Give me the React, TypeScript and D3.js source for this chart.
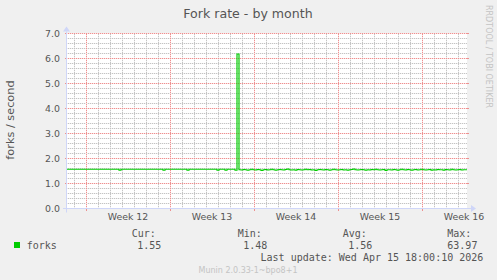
import React from "react";
import * as d3 from "d3";

const TITLE = "Fork rate - by month";
const Y_LABEL = "forks / second";
const Y_MAJOR_TICKS = [0, 1, 2, 3, 4, 5, 6, 7];
const Y_MINOR_TICKS = [0.2, 0.4, 0.6, 0.8, 1.2, 1.4, 1.6, 1.8, 2.2, 2.4, 2.6, 2.8, 3.2, 3.4, 3.6, 3.8, 4.2, 4.4, 4.6, 4.8, 5.2, 5.4, 5.6, 5.8, 6.2, 6.4, 6.6, 6.8];
const SERIES_NAME = "forks";
const SERIES_COLOR = "#00cc00";
const STAT_LABELS = ["Cur:", "Min:", "Avg:", "Max:"];
const STAT_VALUES = ["1.55", "1.48", "1.56", "63.97"];
const LAST_UPDATE = "Last update: Wed Apr 15 18:00:10 2026";
const MUNIN_VERSION = "Munin 2.0.33-1~bpo8+1";
const WATERMARK = "RRDTOOL / TOBI OETIKER";
const VIEW_START = "2026-03-13T10:00:00Z";
const VIEW_END = "2026-04-15T18:00:00Z";
const DATA_START = "2026-03-13T10:00:00Z";
const STEP_HOURS = 4;

// forks per second, one value per 4-hour step
const FORKS = [
  1.57, 1.57, 1.57, 1.57, 1.57, 1.57, 1.57, 1.57, 1.57, 1.57,
  1.57, 1.57, 1.57, 1.57, 1.57, 1.57, 1.57, 1.57, 1.57, 1.57,
  1.57, 1.57, 1.57, 1.57, 1.57, 1.57, 1.53, 1.57, 1.57, 1.57,
  1.57, 1.57, 1.57, 1.57, 1.57, 1.57, 1.57, 1.57, 1.57, 1.57,
  1.57, 1.57, 1.57, 1.57, 1.57, 1.57, 1.57, 1.57, 1.53, 1.57,
  1.57, 1.57, 1.57, 1.57, 1.57, 1.57, 1.57, 1.57, 1.57, 1.57,
  1.53, 1.57, 1.57, 1.57, 1.57, 1.57, 1.57, 1.57, 1.57, 1.57,
  1.57, 1.57, 1.57, 1.57, 1.57, 1.53, 1.57, 1.57, 1.57, 1.53,
  1.57, 1.57, 1.57, 1.57, 1.53,
  6.18,
  1.55, 1.54, 1.56, 1.55, 1.53, 1.55, 1.57, 1.55, 1.54, 1.56,
  1.55, 1.52, 1.55, 1.56, 1.54, 1.55, 1.57, 1.55, 1.53, 1.55,
  1.56, 1.55, 1.54, 1.56, 1.58, 1.55, 1.54, 1.55, 1.53, 1.56,
  1.55, 1.54, 1.55, 1.57, 1.55, 1.56, 1.54, 1.55, 1.52, 1.55,
  1.56, 1.55, 1.54, 1.56, 1.55, 1.53, 1.55, 1.57, 1.55, 1.54,
  1.55, 1.56, 1.54, 1.55, 1.53, 1.55, 1.56, 1.58, 1.55, 1.54,
  1.55, 1.56, 1.55, 1.53, 1.55, 1.54, 1.56, 1.55, 1.57, 1.55,
  1.54, 1.55, 1.56, 1.52, 1.55, 1.55, 1.54, 1.56, 1.55, 1.53,
  1.55, 1.57, 1.55, 1.54, 1.56, 1.55, 1.53, 1.55, 1.56, 1.54,
  1.55, 1.57, 1.55, 1.54, 1.55, 1.56, 1.53, 1.55, 1.54, 1.56,
  1.55, 1.55, 1.53, 1.56, 1.55, 1.54, 1.57, 1.55, 1.54, 1.55,
  1.56, 1.54, 1.55, 1.55, 1.55,
];

const W = 497;
const H = 280;
const X0 = 67;
const X1 = 467;
const Y0 = 208.5;
const Y1 = 33.5;

const SANS = "'DejaVu Sans', sans-serif";
const MONO = "'DejaVu Sans Mono', monospace";
const TEXT = "#555";
const FAINT = "#c4c4c4";
const AXIS = "#cfd6f8";
const MINOR_DOT = "#c4c4c4";
const MINOR_BASE = "#efefef";
const MAJOR_DOT = "#ee9090";
const MAJOR_BASE = "#fbe0e0";

function hLinePath(row: number, xa: number, xb: number, dotted: boolean) {
  if (!dotted) return `M${xa},${row}h${xb - xa}v1h${xa - xb}z`;
  let d = "";
  for (let c = xa + (xa % 2); c < xb; c += 2) d += `M${c},${row}h1v1h-1z`;
  return d;
}
function vLinePath(col: number, ya: number, yb: number, dotted: boolean) {
  if (!dotted) return `M${col},${ya}h1v${yb - ya}h-1z`;
  let d = "";
  for (let r = ya + (ya % 2); r < yb; r += 2) d += `M${col},${r}h1v1h-1z`;
  return d;
}

export default function App() {
  const x = d3.scaleUtc().domain([new Date(VIEW_START), new Date(VIEW_END)]).range([X0, X1]);
  const y = d3.scaleLinear().domain([0, 7]).range([Y0, Y1]);
  const start = new Date(DATA_START);
  const pts: [Date, number][] = FORKS.map((v, i) => [d3.utcHour.offset(start, i * STEP_HOURS), v]);
  const line = d3
    .line<[Date, number]>()
    .x((d) => x(d[0]))
    .y((d) => y(d[1]))
    .curve(d3.curveStepAfter);

  const [d0, d1] = x.domain();
  const days = d3.utcDay.range(d0, d1);
  const sundays = d3.utcSunday.range(d0, d1);
  const fmtWeek = d3.utcFormat("%V");
  const weekLabels = d3.utcSunday
    .range(d3.utcDay.offset(d0, -7), d1)
    .map((s) => d3.utcHour.offset(s, 84))
    .filter((m) => x(m) >= X0 && x(m) <= X1 + 5);

  const pi = (v: number) => Math.round(v);
  const top = pi(Y1 - 0.5);
  const bottom = pi(Y0 - 0.5);
  const statLabelX = [131.7, 237.7, 342.7, 447.3];
  const statValueX = [137.3, 243.3, 348.3, 447.3];

  const minorDays = days.filter((d) => !sundays.some((s) => +s === +d));
  const minorGrid = (dotted: boolean) =>
    Y_MINOR_TICKS.map((t) => hLinePath(pi(y(t) - 0.5), X0, X1, dotted)).join("") +
    minorDays.map((d) => vLinePath(pi(x(d)), top, bottom, dotted)).join("");
  const majorGrid = (dotted: boolean) =>
    Y_MAJOR_TICKS.map((t) => hLinePath(pi(y(t) - 0.5), X0, X1, dotted)).join("") +
    sundays.map((s) => vLinePath(pi(x(s)), top, bottom, dotted)).join("");
  const majorTicks =
    Y_MAJOR_TICKS.map((t) => `M${X0 - 2},${pi(y(t) - 0.5)}h2v1h-2zM${X1},${pi(y(t) - 0.5)}h2v1h-2z`).join("") +
    sundays.map((s) => `M${pi(x(s))},${bottom}h1v3h-1z`).join("");

  return (
    <svg width={W} height={H} style={{ position: "absolute", left: 0, top: 0, background: "#f0f0f0" }}>
      <rect x={0} y={0} width={W} height={H} fill="#f0f0f0" />
      <rect x={X0} y={Y1 - 0.5} width={X1 - X0} height={Y0 - Y1 + 0.5} fill="#ffffff" />
      <path d={minorGrid(false)} fill={MINOR_BASE} shapeRendering="crispEdges" />
      <path d={minorGrid(true)} fill={MINOR_DOT} shapeRendering="crispEdges" />
      <path d={majorGrid(false)} fill={MAJOR_BASE} shapeRendering="crispEdges" />
      <path d={majorGrid(true)} fill={MAJOR_DOT} shapeRendering="crispEdges" />
      <path d={majorTicks} fill={MAJOR_DOT} shapeRendering="crispEdges" />
      {/* axes */}
      <line x1={X0 - 4} x2={X1 + 4} y1={Y0} y2={Y0} stroke={AXIS} />
      <path d={`M${X1 + 4},${Y0 - 3.5}L${X1 + 9},${Y0}L${X1 + 4},${Y0 + 3.5}Z`} fill={AXIS} />
      <line x1={X0 - 0.5} x2={X0 - 0.5} y1={Y0 + 4} y2={Y1 - 2} stroke={AXIS} />
      <path d={`M${X0 - 4},${Y1 - 2}L${X0 - 0.5},${Y1 - 7}L${X0 + 3},${Y1 - 2}Z`} fill={AXIS} />
      {/* data line */}
      <path d={line(pts) || ""} fill="none" stroke={SERIES_COLOR} strokeWidth={1.2} />
      {/* y tick labels */}
      {Y_MAJOR_TICKS.map((t) => (
        <text key={"yl" + t} x={60} y={y(t) + 3.6} textAnchor="end" fontFamily={SANS} fontSize={9.4} fill={TEXT}>
          {t.toFixed(1)}
        </text>
      ))}
      {/* week labels */}
      {weekLabels.map((m) => (
        <text key={"wl" + +m} x={x(m)} y={220} textAnchor="middle" fontFamily={SANS} fontSize={9.4} fill={TEXT}>
          {"Week " + +fmtWeek(m)}
        </text>
      ))}
      {/* title */}
      <text x={248} y={18} textAnchor="middle" fontFamily={SANS} fontSize={12.6} fill={TEXT}>
        {TITLE}
      </text>
      {/* y label */}
      <text transform="translate(14,120) rotate(-90)" textAnchor="middle" fontFamily={SANS} fontSize={11.3} fill={TEXT}>
        {Y_LABEL}
      </text>
      {/* watermark */}
      <text transform="translate(486,56.5) rotate(90)" textAnchor="middle" fontFamily={SANS} fontSize={8} fill={FAINT}>
        {WATERMARK}
      </text>
      {/* legend */}
      <rect x={14} y={242} width={6} height={6} fill={SERIES_COLOR} />
      <text x={26.7} y={249} fontFamily={MONO} fontSize={10} fill={TEXT}>
        {SERIES_NAME}
      </text>
      {STAT_LABELS.map((l, i) => (
        <text key={l} x={statLabelX[i]} y={236.5} fontFamily={MONO} fontSize={10} fill={TEXT}>
          {l}
        </text>
      ))}
      {STAT_VALUES.map((v, i) => (
        <text key={"v" + i} x={statValueX[i]} y={249} fontFamily={MONO} fontSize={10} fill={TEXT}>
          {v}
        </text>
      ))}
      <text x={483.3} y={261} textAnchor="end" fontFamily={MONO} fontSize={10} fill={TEXT}>
        {LAST_UPDATE}
      </text>
      <text x={248} y={272.5} textAnchor="middle" fontFamily={SANS} fontSize={8} fill={FAINT}>
        {MUNIN_VERSION}
      </text>
    </svg>
  );
}
